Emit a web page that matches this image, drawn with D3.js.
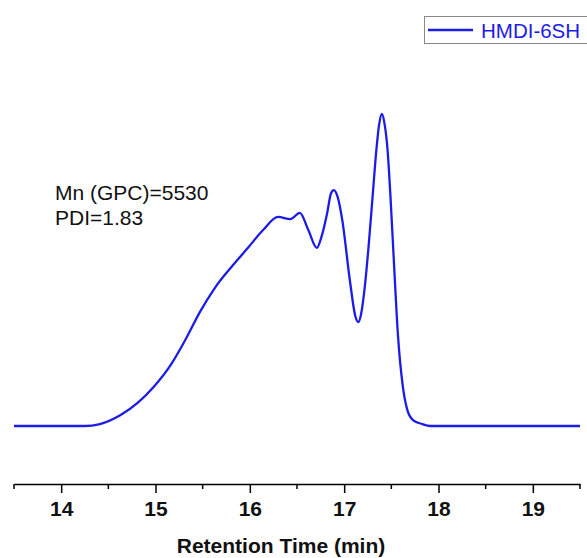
<!DOCTYPE html>
<html>
<head>
<meta charset="utf-8">
<script src="https://cdn.jsdelivr.net/npm/d3@7"></script>
<style>
  body { margin: 0; background: #fff; }
  svg { display: block; font-family: "Liberation Sans", Arial, sans-serif; }
  .x-axis path, .x-axis line, .minor line { stroke: #000; stroke-width: 1.5; }
  .x-axis text { font-size: 21px; font-weight: bold; fill: #111; }
</style>
</head>
<body>
<div id="chart"></div>
<script>
// retention time (min) and normalised detector response
const times = [13.5, 14.25, 14.41, 14.63, 14.81, 14.98, 15.16, 15.32, 15.47, 15.63, 15.82, 15.98, 16.14,
  16.30, 16.43, 16.53, 16.62, 16.71, 16.76, 16.82, 16.86, 16.89, 16.93, 16.98, 17.06, 17.12, 17.15, 17.18,
  17.22, 17.26, 17.30, 17.34, 17.37, 17.40, 17.43, 17.46, 17.49, 17.53, 17.57, 17.62, 17.67, 17.73, 17.83, 17.91, 19.5];
const response = [0, 0, 0.006, 0.035, 0.074, 0.125, 0.195, 0.278, 0.365, 0.443, 0.515, 0.571, 0.628,
  0.670, 0.663, 0.683, 0.628, 0.571, 0.607, 0.683, 0.745, 0.756, 0.735, 0.660, 0.468, 0.350, 0.333, 0.36,
  0.45, 0.58, 0.73, 0.88, 0.965, 1.0, 0.965, 0.885, 0.74, 0.51, 0.292, 0.131, 0.051, 0.019, 0.006, 0, 0];
const majorTicks = [14, 15, 16, 17, 18, 19];
const minorTicks = [13.5, 14.5, 15.5, 16.5, 17.5, 18.5, 19.5];
const seriesName = "HMDI-6SH";
const notes = ["Mn (GPC)=5530", "PDI=1.83"];

const W = 587, H = 558;
const lineColor = "#1c1ce6";

const svg = d3.select("#chart").append("svg")
    .attr("width", W).attr("height", H);

const x = d3.scaleLinear().domain([13.5, 19.5]).range([14, 580]);
const y = d3.scaleLinear().domain([0, 1]).range([426, 114]);

const data = times.map((t, i) => ({t: t, v: response[i]}));

// the trace
svg.append("path")
    .datum(data)
    .attr("fill", "none")
    .attr("stroke", lineColor)
    .attr("stroke-width", 2.3)
    .attr("d", d3.line().x(d => x(d.t)).y(d => y(d.v)).curve(d3.curveMonotoneX));

// x axis
const axisY = 484;
svg.append("g")
    .attr("class", "x-axis")
    .attr("transform", "translate(0," + axisY + ")")
    .call(d3.axisBottom(x).tickValues(majorTicks).tickSize(9).tickSizeOuter(0).tickPadding(8)
      .tickFormat(d3.format("d")));

svg.append("g")
    .attr("class", "minor")
    .attr("transform", "translate(0," + axisY + ")")
    .selectAll("line")
    .data(minorTicks)
    .enter().append("line")
      .attr("x1", d => x(d)).attr("x2", d => x(d))
      .attr("y1", 0).attr("y2", 5);

svg.append("text")
    .attr("x", 281).attr("y", 553)
    .attr("text-anchor", "middle")
    .style("font-size", "21px").style("font-weight", "bold").style("fill", "#111")
    .text("Retention Time (min)");

// annotation
svg.selectAll(".note")
    .data(notes)
    .enter().append("text")
      .attr("class", "note")
      .attr("x", 55).attr("y", (d, i) => 200 + i * 25)
      .style("font-size", "21px").style("fill", "#111")
      .text(d => d);

// legend
const legend = svg.append("g");
legend.append("rect")
    .attr("x", 424.5).attr("y", 16.5).attr("width", 170).attr("height", 27)
    .attr("fill", "#fff").attr("stroke", "#888").attr("stroke-width", 1);
legend.append("line")
    .attr("x1", 428).attr("x2", 473).attr("y1", 30).attr("y2", 30)
    .attr("stroke", lineColor).attr("stroke-width", 2.3);
legend.append("text")
    .attr("x", 481).attr("y", 37.5)
    .style("font-size", "20.5px").style("fill", lineColor)
    .text(seriesName);
</script>
</body>
</html>
